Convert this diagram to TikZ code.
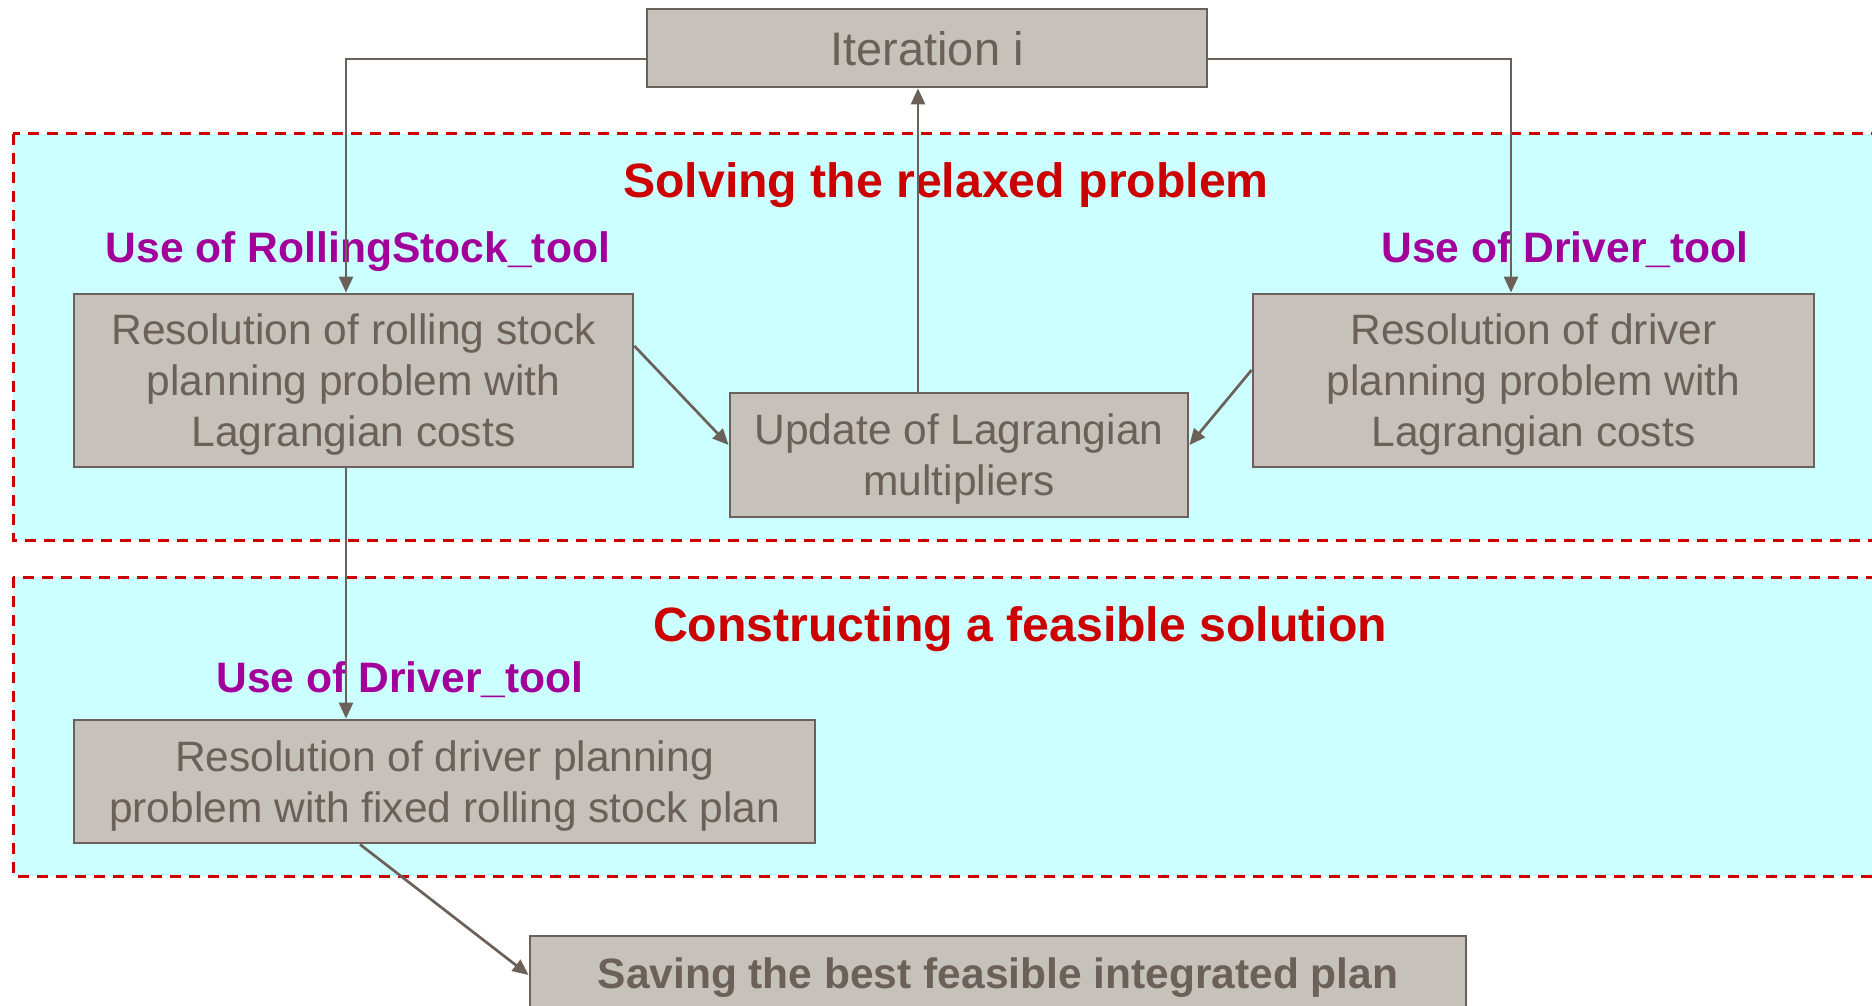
\documentclass[tikz,border=0pt]{standalone}
\usepackage{fontspec}
\setmainfont{Liberation Sans}
\usetikzlibrary{arrows.meta,calc}
\definecolor{boxfill}{HTML}{C6C1BB}
\definecolor{boxline}{HTML}{6B6158}
\definecolor{regcyan}{HTML}{CCFFFF}
\definecolor{regred}{HTML}{CC0000}
\definecolor{usemag}{HTML}{A3009B}
\tikzset{
  box/.style={draw=boxline, line width=2.8pt, fill=boxfill, text=boxline, inner sep=0pt, align=center, font=\fontsize{42.5}{51}\selectfont},
  region/.style={draw=regred, line width=3pt, dash pattern=on 11pt off 8pt, fill=regcyan},
  title/.style={text=regred, font=\bfseries\fontsize{48.2}{56}\selectfont, anchor=base, inner sep=0pt},
  uselabel/.style={text=usemag, font=\bfseries\fontsize{42.6}{50}\selectfont, anchor=base, inner sep=0pt},
  arr/.style={draw=boxline, line width=2.7pt, -{Triangle[length=16pt,width=14pt]}},
}
\begin{document}
\begin{tikzpicture}[x=1pt,y=-1pt]
\useasboundingbox (0,0) rectangle (1872,1006);
\draw[region] (13,134) rectangle (1900,540);
\draw[region] (13,577) rectangle (1900,876);
\node[title] (t1) at (946,197) {Solving the relaxed problem};
\node[title] (t2) at (1020,641) {Constructing a feasible solution};
\node[uselabel] (u1) at (358,262) {Use of RollingStock\_tool};
\node[uselabel] (u2) at (1565,262) {Use of Driver\_tool};
\node[uselabel] (u3) at (400,692) {Use of Driver\_tool};
\node[box, minimum width=560pt, minimum height=78pt, text depth=0pt, font=\fontsize{47}{56}\selectfont] (iter) at (927,48) {Iteration i};
\node[box, minimum width=559pt, minimum height=173pt, text depth=0pt] (lbox) at (353.5,380.5) {Resolution of rolling stock\\planning problem with\\Lagrangian costs};
\node[box, minimum width=561pt, minimum height=173pt, text depth=0pt] (rbox) at (1533.5,380.5) {Resolution of driver\\planning problem with\\Lagrangian costs};
\node[box, minimum width=458pt, minimum height=124pt, text depth=0pt] (mid) at (959,455) {Update of Lagrangian\\multipliers};
\node[box, minimum width=741pt, minimum height=123pt, text depth=0pt] (fbox) at (444.5,781.5) {Resolution of driver planning\\problem with fixed rolling stock plan};
\node[box, minimum width=936pt, minimum height=84pt, font=\bfseries\fontsize{42.5}{51}\selectfont] (best) at (998,978) {Saving the best feasible integrated plan};
\draw[arr] ([yshift=-11pt]iter.west) -| ([xshift=-7.5pt]lbox.north);
\draw[arr] ([yshift=-11pt]iter.east) -| ([xshift=-22.5pt]rbox.north);
\draw[arr] ([xshift=-41pt]mid.north) -- ([xshift=-41pt]mid.north |- iter.south);
\draw[arr] ([yshift=34.5pt]lbox.east) -- ([yshift=10pt]mid.west);
\draw[arr] ([yshift=10.5pt]rbox.west) -- ([yshift=10pt]mid.east);
\draw[arr] ([xshift=-7.5pt]lbox.south) -- ([xshift=-7.5pt]lbox.south |- fbox.north);
\draw[arr] ([xshift=-84.5pt]fbox.south) -- ([yshift=3pt]best.west);
\end{tikzpicture}
\end{document}
